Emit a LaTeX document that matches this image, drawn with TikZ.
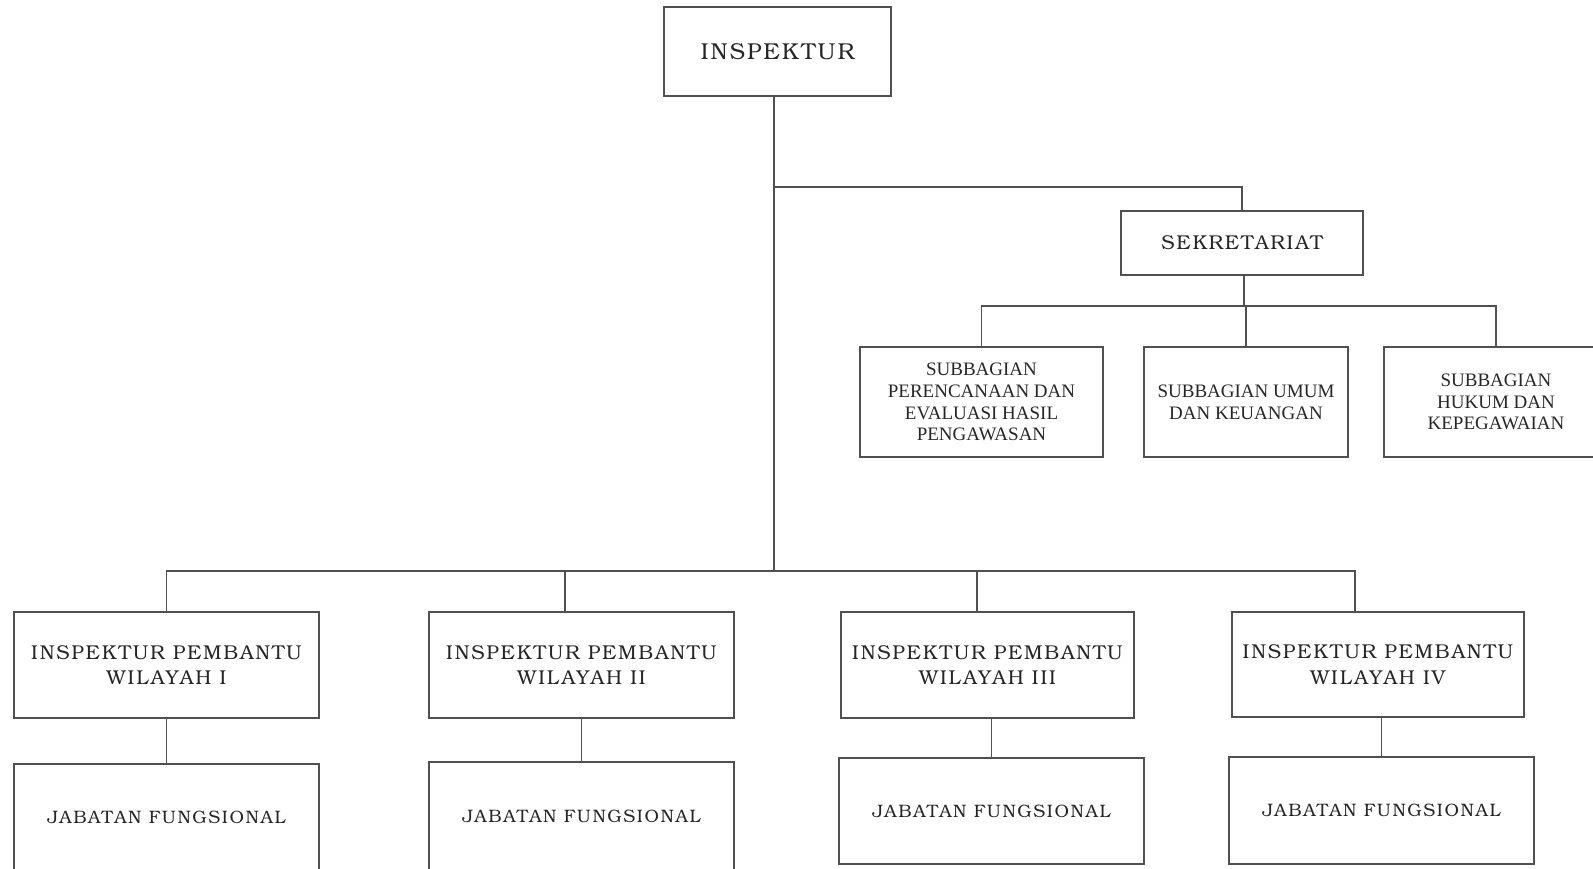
\documentclass[tikz,border=0pt]{standalone}
\usepackage{fontspec}
\newfontfamily\subfont{Liberation Serif}
\newfontfamily\bkfont[LetterSpace=9]{texgyrebonum-regular.otf}
\definecolor{ln}{HTML}{505050}
\definecolor{tx}{HTML}{262626}
\tikzset{
  box/.style={draw=ln, line width=1.05pt, inner sep=0pt, align=center, text=tx, fill=none},
  conn/.style={draw=ln, line width=1.05pt},
  topfont/.style={font=\bkfont\fontsize{23}{28}\selectfont},
  ipfont/.style={font=\bkfont\fontsize{20}{25.5}\selectfont},
  jffont/.style={font=\bkfont\fontsize{18}{22}\selectfont},
  sekfont/.style={font=\bkfont\fontsize{20}{24}\selectfont},
  subtext/.style={font=\subfont\fontsize{19}{21.7}\selectfont},
}
\begin{document}
\begin{tikzpicture}[x=1pt,y=-1pt]
\useasboundingbox (0,0) rectangle (1593,868);
% top
\node[box,topfont,minimum width=227pt,minimum height=89pt] (insp) at (777.5,51.5) {INSPEKTUR};
\node[box,sekfont,minimum width=242pt,minimum height=64pt] (sek) at (1242,243) {SEKRETARIAT};
% subbagian
\node[box,subtext,minimum width=243pt,minimum height=110pt] (sub1) at (981.5,402) {SUBBAGIAN\\PERENCANAAN DAN\\EVALUASI HASIL\\PENGAWASAN};
\node[box,subtext,minimum width=204pt,minimum height=110pt] (sub2) at (1246,402) {SUBBAGIAN UMUM\\DAN KEUANGAN};
\node[box,subtext,minimum width=224pt,minimum height=110pt] (sub3) at (1496,402) {SUBBAGIAN\\HUKUM DAN\\KEPEGAWAIAN};
% inspektur pembantu
\node[box,ipfont,minimum width=305pt,minimum height=106pt] (ip1) at (166.5,665) {INSPEKTUR PEMBANTU\\WILAYAH I};
\node[box,ipfont,minimum width=305pt,minimum height=106pt] (ip2) at (581.5,665) {INSPEKTUR PEMBANTU\\WILAYAH II};
\node[box,ipfont,minimum width=293pt,minimum height=106pt] (ip3) at (987.5,665) {INSPEKTUR PEMBANTU\\WILAYAH III};
\node[box,ipfont,minimum width=292pt,minimum height=105pt] (ip4) at (1378,664.5) {INSPEKTUR PEMBANTU\\WILAYAH IV};
% jabatan fungsional
\node[box,jffont,minimum width=305pt,minimum height=106pt] (jf1) at (166.5,817) {JABATAN FUNGSIONAL};
\node[box,jffont,minimum width=305pt,minimum height=108pt] (jf2) at (581.5,816) {JABATAN FUNGSIONAL};
\node[box,jffont,minimum width=305pt,minimum height=106pt] (jf3) at (991.5,811) {JABATAN FUNGSIONAL};
\node[box,jffont,minimum width=305pt,minimum height=107pt] (jf4) at (1381.5,810.5) {JABATAN FUNGSIONAL};
% coordinates
\coordinate (tj) at (774,187);
\coordinate (trunk) at (774,571);
\coordinate (sbus) at (1244,306);
\coordinate (b2) at (565,571);
\coordinate (b3) at (977,571);
\coordinate (b4) at (1355,571);
% connectors
\draw[conn] (insp.south -| trunk) -- (trunk);
\draw[conn] (tj) -| (sek.north);
\draw[conn] (sek.south -| sbus) -- (sbus);
\draw[conn] (sub1.north) |- (sbus) -| (sub3.north -| 1496,0);
\draw[conn] (sub2.north) -- (sub2.north |- sbus);
\draw[conn] (ip1.north) |- (b4) -- (b4 |- ip4.north);
\draw[conn] (b2) -- (b2 |- ip2.north);
\draw[conn] (b3) -- (b3 |- ip3.north);
\draw[conn] (ip1.south) -- (jf1.north);
\draw[conn] (ip2.south) -- (jf2.north);
\draw[conn] (jf3.north) -- (jf3.north |- ip3.south);
\draw[conn] (jf4.north) -- (jf4.north |- ip4.south);
\end{tikzpicture}
\end{document}
